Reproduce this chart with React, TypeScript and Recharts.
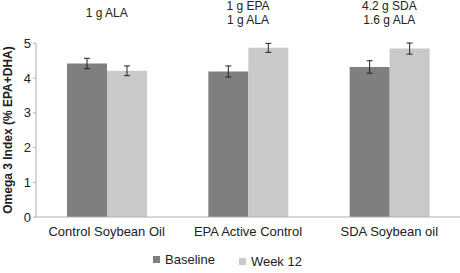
import React from 'react';
import {
  BarChart,
  Bar,
  XAxis,
  YAxis,
  ErrorBar,
  Legend } from
'recharts';

const groups = ['Control Soybean Oil', 'EPA Active Control', 'SDA Soybean oil'];
const doses = [['1 g ALA'], ['1 g EPA', '1 g ALA'], ['4.2 g SDA', '1.6 g ALA']];
const baseline = [4.42, 4.19, 4.32];
const baselineErr = [0.15, 0.16, 0.18];
const week12 = [4.21, 4.87, 4.85];
const week12Err = [0.14, 0.13, 0.16];
const yTicks = [0, 1, 2, 3, 4, 5];

const data = groups.map((g, i) => ({
  name: g,
  dose: i,
  baseline: baseline[i],
  baselineErr: baselineErr[i],
  week12: week12[i],
  week12Err: week12Err[i]
}));

const FONT = '"Liberation Sans", Arial, sans-serif';
const DARK = '#7f7f7f';
const LIGHT = '#c9c9c9';

function DoseTick(props: any) {
  const { x, payload } = props;
  const lines = doses[payload.value] || [];
  const startY = lines.length > 1 ? 10 : 17;
  return (
    <text x={x} y={startY} textAnchor="middle" fontSize={12} fill="#222" fontFamily={FONT}>
      {lines.map((l, i) =>
      <tspan key={i} x={x} dy={i === 0 ? 0 : 14}>{l}</tspan>
      )}
    </text>);

}

function LegendBox() {
  return (
    <div style={{ display: 'flex', fontFamily: FONT, fontSize: 13, color: '#222' }}>
      <div style={{ display: 'flex', alignItems: 'center' }}>
        <span style={{ width: 7, height: 7, background: DARK, marginRight: 5, display: 'inline-block' }} />
        Baseline
      </div>
      <div style={{ display: 'flex', alignItems: 'center', marginLeft: 24, marginTop: 4 }}>
        <span style={{ width: 7, height: 7, background: LIGHT, marginRight: 5, display: 'inline-block' }} />
        Week 12
      </div>
    </div>);

}

export default function App() {
  return (
    <div style={{ position: 'absolute', left: 0, top: 0, background: '#fff' }}>
      <BarChart
        width={460}
        height={273}
        data={data}
        margin={{ top: 0, right: 0, bottom: 26, left: 0 }}
        barGap={0}
        barSize={40}>

        <XAxis
          xAxisId="top"
          orientation="top"
          dataKey="dose"
          height={43}
          axisLine={false}
          tickLine={false}
          tick={<DoseTick />}
          interval={0} />

        <XAxis
          dataKey="name"
          height={30}
          interval={0}
          tickLine={false}
          axisLine={{ stroke: '#b0b0b0' }}
          tick={{ fontSize: 13, fill: '#222', fontFamily: FONT, dy: 2 }} />

        <YAxis
          width={36}
          domain={[0, 5]}
          ticks={yTicks}
          axisLine={{ stroke: '#b0b0b0' }}
          tickLine={{ stroke: '#b0b0b0' }}
          tickSize={3}
          tick={{ fontSize: 13, fill: '#222', fontFamily: FONT }}
          label={{
            content: (p: any) => {
              const vb = p.viewBox;
              const cx = vb.x + 8;
              const cy = vb.y + vb.height / 2;
              return (
                <text
                  x={cx}
                  y={cy}
                  transform={`rotate(-90 ${cx} ${cy})`}
                  textAnchor="middle"
                  dominantBaseline="central"
                  fontSize={12}
                  fontWeight="bold"
                  fill="#222"
                  fontFamily={FONT}>
                  Omega 3 Index (% EPA+DHA)
                </text>);

            }
          }} />

        <Bar dataKey="baseline" name="Baseline" fill={DARK} isAnimationActive={false}>
          <ErrorBar dataKey="baselineErr" width={3} stroke="#222" strokeWidth={1} />
        </Bar>
        <Bar dataKey="week12" name="Week 12" fill={LIGHT} isAnimationActive={false}>
          <ErrorBar dataKey="week12Err" width={3} stroke="#222" strokeWidth={1} />
        </Bar>
        <Legend
          verticalAlign="middle"
          layout="horizontal"
          content={<LegendBox />}
          wrapperStyle={{ top: 250, left: 153, width: 'auto' }} />

      </BarChart>
    </div>);

}
